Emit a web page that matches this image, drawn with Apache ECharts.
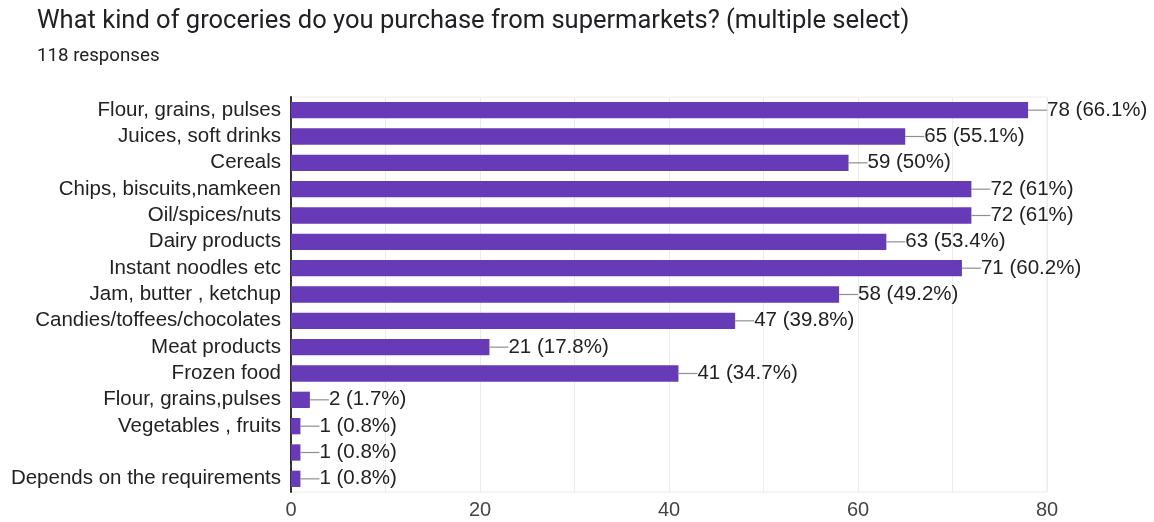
<!DOCTYPE html>
<html>
<head>
<meta charset="utf-8">
<title>Groceries purchased from supermarkets</title>
<script src="https://cdn.jsdelivr.net/npm/echarts@6/dist/echarts.min.js"></script>
<style>
  html, body { margin: 0; padding: 0; background: #ffffff; }
  #chart { width: 1154px; height: 522px; }
</style>
</head>
<body>
<div id="chart"></div>
<script>
// Survey answers (multiple select), 118 respondents
const categories = [
  'Flour, grains, pulses',
  'Juices, soft drinks',
  'Cereals',
  'Chips, biscuits,namkeen',
  'Oil/spices/nuts',
  'Dairy products',
  'Instant noodles etc',
  'Jam, butter , ketchup',
  'Candies/toffees/chocolates',
  'Meat products',
  'Frozen food',
  'Flour, grains,pulses',
  'Vegetables , fruits',
  '',
  'Depends on the requirements'
];
const counts = [78, 65, 59, 72, 72, 63, 71, 58, 47, 21, 41, 2, 1, 1, 1];
const percents = ['66.1%', '55.1%', '50%', '61%', '61%', '53.4%', '60.2%', '49.2%', '39.8%', '17.8%', '34.7%', '1.7%', '0.8%', '0.8%', '0.8%'];
const xTicks = [0, 20, 40, 60, 80];

const barColor = '#673ab7';
const labelFont = 'Arial, "Liberation Sans", sans-serif';

const chart = echarts.init(document.getElementById('chart'));

chart.setOption({
  animation: false,
  backgroundColor: '#ffffff',
  title: {
    text: 'What kind of groceries do you purchase from supermarkets? (multiple select)',
    subtext: '118 responses',
    left: 32,
    top: 4,
    itemGap: 11.5,
    textStyle: { fontFamily: 'Roboto, sans-serif', fontSize: 25.5, fontWeight: 'normal', color: '#202124' },
    subtextStyle: { fontFamily: 'Roboto, sans-serif', fontSize: 18.7, color: '#202124' }
  },
  grid: {
    left: 291,
    right: 107,
    top: 97,
    bottom: 30,
    show: true,
    borderColor: '#ebebeb',
    borderWidth: 1
  },
  xAxis: {
    type: 'value',
    min: 0,
    max: 80,
    interval: 10,
    axisLine: { show: false },
    axisTick: { show: false },
    splitLine: { show: true, lineStyle: { color: '#ebebeb', width: 1 } },
    axisLabel: {
      margin: 8,
      fontFamily: labelFont,
      fontSize: 20,
      color: '#444444',
      formatter: v => (xTicks.indexOf(v) >= 0 ? String(v) : '')
    }
  },
  yAxis: {
    type: 'category',
    data: categories,
    inverse: true,
    axisLine: { show: true, lineStyle: { color: '#333333', width: 2 } },
    axisTick: { show: false },
    splitLine: { show: false },
    axisLabel: {
      interval: 0,
      hideOverlap: false,
      margin: 10,
      fontFamily: labelFont,
      fontSize: 20.5,
      color: '#222222'
    }
  },
  series: [
    {
      type: 'bar',
      data: counts,
      barCategoryGap: '38%',
      itemStyle: { color: barColor },
      z: 2
    },
    {
      // leader line and value label at the end of each bar
      type: 'custom',
      data: counts.map((c, i) => [c, i]),
      encode: { x: 0, y: 1 },
      z: 3,
      silent: true,
      renderItem: function (params, api) {
        const i = api.value(1);
        const v = api.value(0);
        const p = api.coord([v, i]);
        const lineLen = 19;
        return {
          type: 'group',
          children: [
            {
              type: 'line',
              shape: { x1: p[0], y1: p[1], x2: p[0] + lineLen, y2: p[1] },
              style: { stroke: '#8f8f8f', lineWidth: 1.2 }
            },
            {
              type: 'text',
              x: p[0] + lineLen,
              y: p[1],
              style: {
                text: counts[i] + ' (' + percents[i] + ')',
                fontFamily: labelFont,
                fontSize: 20.5,
                fill: '#222222',
                align: 'left',
                verticalAlign: 'middle'
              }
            }
          ]
        };
      }
    }
  ]
});
</script>
</body>
</html>
